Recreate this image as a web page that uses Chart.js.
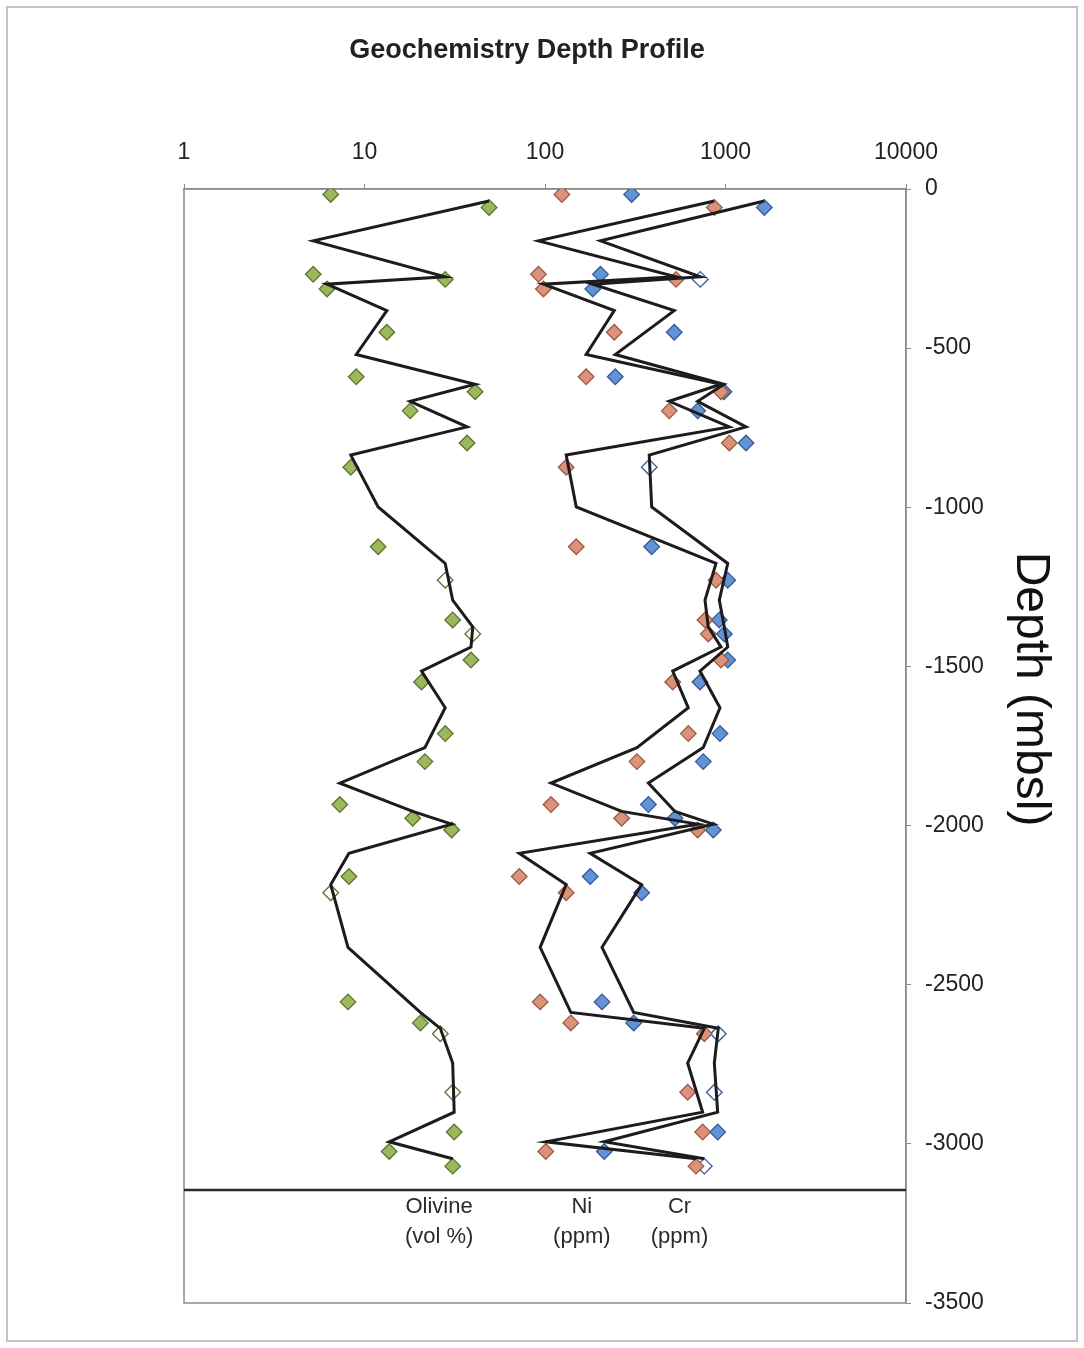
<!DOCTYPE html>
<html>
<head>
<meta charset="utf-8">
<script src="https://cdn.jsdelivr.net/npm/chart.js@4.4.1/dist/chart.umd.min.js"></script>
<style>
html,body{margin:0;padding:0;background:#fff;}
canvas{display:block;}
</style>
</head>
<body>
<canvas id="c" width="1084" height="1348"></canvas>
<script>
// ---------- DATA ----------
const depths = [-17,-58,-268,-284,-314,-450,-590,-637,-697,-798,-874,-1124,-1229,-1354,-1398,-1480,-1549,-1711,-1799,-1934,-1977,-2014,-2160,-2211,-2554,-2620,-2654,-2838,-2963,-3024,-3070];
const olivine = [6.5,49,5.2,28,6.2,13.3,9.0,41,17.9,37,8.4,11.9,28,30.8,39.8,38.9,20.7,28,21.6,7.3,18.5,30.4,8.2,6.5,8.1,20.4,26.3,30.8,31.4,13.7,30.8];
const nickel = [124,867,92,532,98,242,169,944,488,1050,131,149,886,770,803,944,510,622,323,108,266,701,72,131,94,139,763,617,747,101,686];
const chromium = [302,1641,203,725,184,520,245,981,701,1299,378,390,1029,924,985,1029,722,932,753,374,525,856,178,343,207,310,912,867,905,213,763];
const xTickValues = [1,10,100,1000,10000];
const separatorDepth = -3145;
const columnLabels = [['Olivine','(vol %)'],['Ni','(ppm)'],['Cr','(ppm)']];
const chartTitle = 'Geochemistry Depth Profile';
const depthTitle = 'Depth (mbsl)';

// ---------- STYLE ----------
const FONT = "'Liberation Sans', Arial, Helvetica, sans-serif";
const labelAnchors = [25.9, 160, 556];          // column label centres, in axis units
const hollow = { olivine:[12,14,23,26,27], nickel:[], chromium:[3,10,26,27,30] };

// Excel-style 2-period moving-average trendline (depth averaged, plotted at each value)
function movingAverageTrend(values){
  const out = [];
  for (let i = 1; i < values.length; i++) {
    out.push({x: values[i], y: (depths[i-1] + depths[i]) / 2});
  }
  return out;
}
const pts = vals => vals.map((v,i)=>({x:v, y:depths[i]}));

function pointSet(label, vals, fill, border, hollowIdx, order){
  return {
    label, data: pts(vals), showLine:false, order, yAxisID:'y', xAxisID:'x',
    pointStyle:'rectRot', pointRadius:7.8, pointHoverRadius:7.8,
    pointBorderWidth:1.3, pointBorderColor:border,
    pointBackgroundColor: ctx => hollowIdx.includes(ctx.dataIndex) ? '#ffffff' : fill,
  };
}
function trendSet(vals){
  return { data: movingAverageTrend(vals), showLine:true, order:0, yAxisID:'y', xAxisID:'x',
    borderColor:'#1c1c1c', borderWidth:3, pointRadius:0, tension:0, fill:false };
}

const frame = {
  id:'frame',
  beforeDraw(chart){
    const c = chart.ctx;
    c.save();
    c.fillStyle = '#ffffff';
    c.fillRect(0,0,chart.width,chart.height);
    c.strokeStyle = '#c4c4c4'; c.lineWidth = 2;
    c.strokeRect(7,7,chart.width-14,chart.height-14);
    c.restore();
  },
  beforeDatasetsDraw(chart){
    const a = chart.chartArea, c = chart.ctx;
    c.save();
    c.strokeStyle = '#8c8c8c'; c.lineWidth = 1.5;
    c.strokeRect(a.left, a.top, a.right-a.left, a.bottom-a.top);
    c.restore();
  },
  afterDraw(chart){
    const c = chart.ctx, xs = chart.scales.x, ys = chart.scales.y;
    c.save();
    c.fillStyle = '#2a2a2a';
    c.font = "22px " + FONT;
    c.textAlign = 'center'; c.textBaseline = 'middle';
    const y0 = ys.getPixelForValue(separatorDepth);
    columnLabels.forEach((lines, k) => {
      const x = xs.getPixelForValue(labelAnchors[k]);
      lines.forEach((t, j) => c.fillText(t, x, y0 + 17 + j*30));
    });
    c.translate(1030, 689);
    c.rotate(Math.PI/2);
    c.font = "48px " + FONT;
    c.fillStyle = '#111';
    c.fillText(depthTitle, 0, 0);
    c.restore();
  }
};

new Chart(document.getElementById('c'), {
  type:'scatter',
  data:{ datasets:[
    trendSet(olivine), trendSet(nickel), trendSet(chromium),
    { data:[{x:1,y:separatorDepth},{x:10000,y:separatorDepth}], showLine:true, order:0,
      yAxisID:'y', xAxisID:'x', borderColor:'#2b2b2b', borderWidth:2.5, pointRadius:0 },
    pointSet('Olivine (vol %)', olivine, '#9CB85C', '#5E7331', hollow.olivine, 2),
    pointSet('Ni (ppm)', nickel, '#DC9278', '#9B5A45', hollow.nickel, 2),
    pointSet('Cr (ppm)', chromium, '#6393D6', '#345B99', hollow.chromium, 3),
  ]},
  options:{
    responsive:false, animation:false, devicePixelRatio:1,
    layout:{ padding:{ left:0, right:30, top:0, bottom:45 } },
    plugins:{
      legend:{display:false}, tooltip:{enabled:false},
      title:{ display:true, text:chartTitle, color:'#222',
        font:{family:FONT, size:27, weight:'bold'}, padding:{top:34, bottom:10} }
    },
    scales:{
      x:{ type:'logarithmic', position:'top', min:1, max:10000,
        afterBuildTicks: s => { s.ticks = xTickValues.map(v => ({value:v})); },
        afterFit: s => { s.height = 112.6; },
        ticks:{ callback: v => String(v), color:'#222', font:{family:FONT, size:23},
          padding:18, maxRotation:0, autoSkip:false },
        grid:{ drawOnChartArea:false, drawTicks:true, tickLength:5, color:'#8c8c8c' },
        border:{ display:true, color:'#8c8c8c', width:1.5 }
      },
      y:{ type:'linear', position:'right', min:-3500, max:0,
        afterFit: s => { s.width = 148; },
        ticks:{ stepSize:500, callback: v => String(v), color:'#222',
          font:{family:FONT, size:23}, padding:14 },
        grid:{ drawOnChartArea:false, drawTicks:true, tickLength:5, color:'#8c8c8c' },
        border:{ display:true, color:'#8c8c8c', width:1.5 }
      },
      yLeft:{ type:'linear', position:'left', min:-3500, max:0, display:true,
        afterFit: s => { s.width = 184; },
        ticks:{ display:false }, grid:{ display:false }, border:{ display:false }
      }
    }
  },
  plugins:[frame]
});
</script>
</body>
</html>
